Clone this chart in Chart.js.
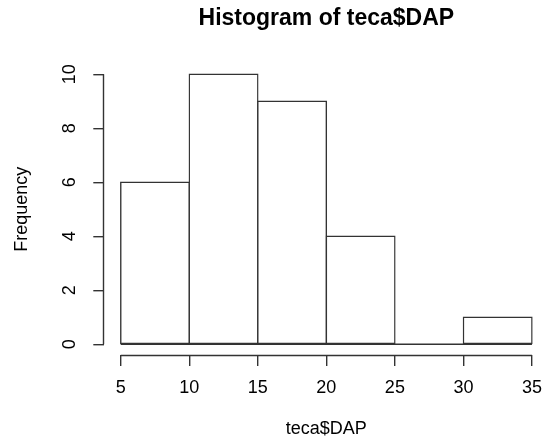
<!DOCTYPE html>
<html>
<head>
<meta charset="utf-8">
<title>Histogram of teca$DAP</title>
<script src="https://cdn.jsdelivr.net/npm/chart.js@4.4.1/dist/chart.umd.min.js"></script>
<style>
  html, body { margin: 0; padding: 0; background: #fff; overflow: hidden; }
  canvas { display: block; }
</style>
</head>
<body>
<canvas id="hist" width="560" height="443"></canvas>
<script>
// bin edges and counts of teca$DAP
var breaks = [5, 10, 15, 20, 25, 30, 35]
var counts = [6, 10, 9, 4, 0, 1]
var xTicks = [5, 10, 15, 20, 25, 30, 35]
var yTicks = [0, 2, 4, 6, 8, 10]

var mids = []
for (var i = 0; i < counts.length; i++) {
    mids.push((breaks[i] + breaks[i + 1]) / 2)
}
var bars = counts.map(function (c, i) { return { x: mids[i], y: c } })
var base = [{ x: breaks[0], y: 0 }, { x: breaks[breaks.length - 1], y: 0 }]

var ink = '#333'
var lw = 1.4
Chart.defaults.font.family = '"Liberation Sans", Arial, sans-serif'
Chart.defaults.color = '#000'

// R style axes: the line only runs between the first and last tick
var axisLines = {
    id: 'axisLines',
    afterDraw: function (chart) {
        var ctx = chart.ctx, xs = chart.scales.x, ys = chart.scales.y
        var area = chart.chartArea
        ctx.save()
        ctx.strokeStyle = ink
        ctx.lineWidth = lw
        ctx.beginPath()
        var yb = Math.round(area.bottom) + 0.5
        ctx.moveTo(xs.getPixelForValue(xTicks[0]), yb)
        ctx.lineTo(xs.getPixelForValue(xTicks[xTicks.length - 1]), yb)
        var xl = Math.round(area.left) - 0.5
        ctx.moveTo(xl, ys.getPixelForValue(yTicks[0]))
        ctx.lineTo(xl, ys.getPixelForValue(yTicks[yTicks.length - 1]))
        ctx.stroke()
        ctx.restore()
    }
}

var chart = new Chart(document.getElementById('hist').getContext('2d'), {
    type: 'bar',
    data: {
        datasets: [
            {
                label: 'teca$DAP',
                data: bars,
                backgroundColor: '#fff',
                borderColor: ink,
                borderWidth: lw,
                borderSkipped: false,
                inflateAmount: lw / 2,
                barPercentage: 1,
                categoryPercentage: 1
            },
            {
                type: 'line',
                data: base,
                borderColor: ink,
                borderWidth: lw,
                pointRadius: 0
            }
        ]
    },
    plugins: [axisLines],
    options: {
        responsive: false,
        animation: false,
        layout: { padding: { top: 0, left: 0, bottom: 0, right: 11.6 } },
        plugins: {
            legend: { display: false },
            tooltip: { enabled: false },
            title: {
                display: true,
                text: 'Histogram of teca$DAP',
                fullSize: false,
                color: '#000',
                font: { size: 23, weight: 'bold' },
                padding: { top: 4.9, bottom: 31 }
            }
        },
        scales: {
            x: {
                type: 'linear',
                min: 3.8,
                max: 36.2,
                offset: false,
                afterBuildTicks: function (scale) {
                    scale.ticks = xTicks.map(function (v) { return { value: v } })
                },
                afterFit: function (scale) { scale.height = 88 },
                grid: { drawOnChartArea: false, drawTicks: true, tickLength: 11, color: ink, lineWidth: lw, offset: false },
                border: { display: false },
                ticks: { font: { size: 18 }, padding: 11, maxRotation: 0, autoSkip: false },
                title: {
                    display: true,
                    text: 'teca$DAP',
                    font: { size: 18 },
                    padding: { top: 0, bottom: 2.7 }
                }
            },
            y: {
                min: -0.4,
                max: 10.4,
                afterBuildTicks: function (scale) {
                    scale.ticks = yTicks.map(function (v) { return { value: v } })
                },
                afterFit: function (scale) { scale.width = 104.3 },
                grid: { drawOnChartArea: false, drawTicks: true, tickLength: 11, color: ink, lineWidth: lw },
                border: { display: false },
                ticks: { font: { size: 18 }, padding: 13.7, minRotation: 90, maxRotation: 90, crossAlign: 'center', autoSkip: false },
                title: {
                    display: true,
                    text: 'Frequency',
                    font: { size: 18 },
                    padding: { top: 11.2, bottom: 0 }
                }
            }
        }
    }
})
</script>
</body>
</html>
